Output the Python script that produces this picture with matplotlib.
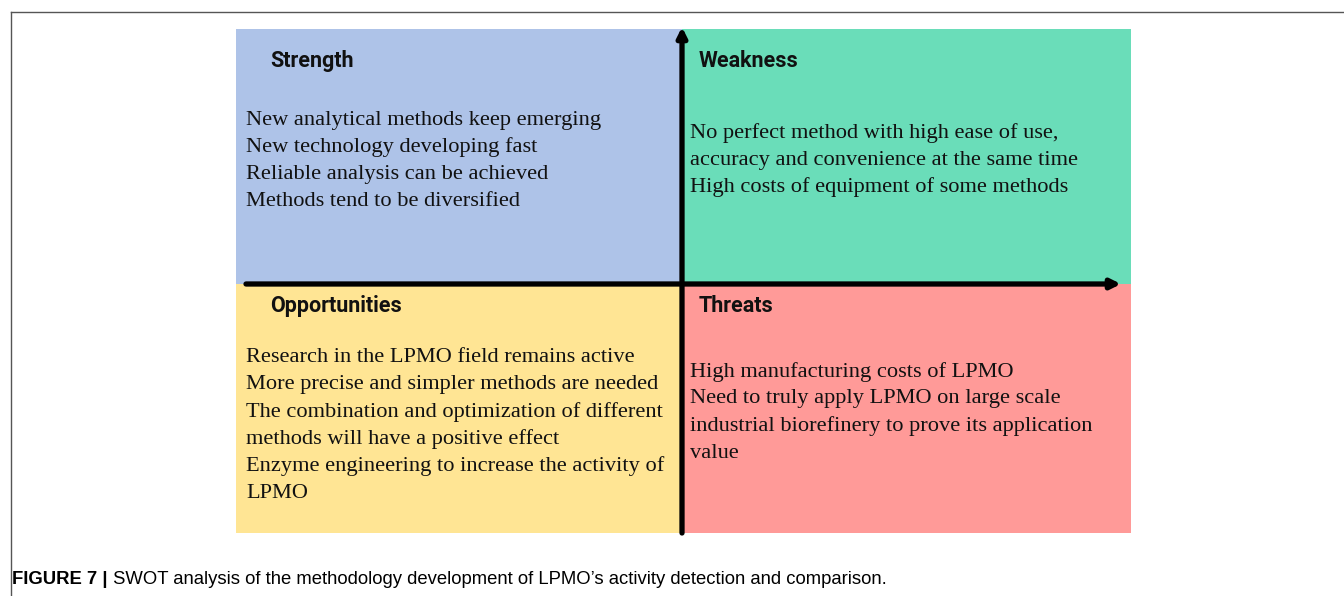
import matplotlib
matplotlib.use("Agg")
import matplotlib.pyplot as plt
from matplotlib.patches import Rectangle

# ---- content ----
titles = ["Strength", "Weakness", "Opportunities", "Threats"]
colors = ["#AEC3E8", "#6ADDB9", "#FFE594", "#FF9A98"]
strength_lines = ["New analytical methods keep emerging",
                  "New technology developing fast",
                  "Reliable analysis can be achieved",
                  "Methods tend to be diversified"]
weakness_lines = ["No perfect method with high ease of use,",
                  "accuracy and convenience at the same time",
                  "High costs of equipment of some methods"]
opportunity_lines = ["Research in the LPMO field remains active",
                     "More precise and simpler methods are needed",
                     "The combination and optimization of different",
                     "methods will have a positive effect",
                     "Enzyme engineering to increase the activity of",
                     "LPMO"]
threat_lines = ["High manufacturing costs of LPMO",
                "Need to truly apply LPMO on large scale",
                "industrial biorefinery to prove its application",
                "value"]
caption_bold = "FIGURE 7 |"
caption_text = " SWOT analysis of the methodology development of LPMO\u2019s activity detection and comparison."

# ---- layout (pixels) ----
W, H = 1344, 596
fig = plt.figure(figsize=(W / 100, H / 100), dpi=100)
ax = fig.add_axes([0, 0, 1, 1])
ax.set_xlim(0, W)
ax.set_ylim(H, 0)
ax.axis("off")

x0, xm, x1 = 236, 682, 1131
y0, ym, y1 = 29, 284, 533

# outer frame lines
ax.plot([11, W], [12, 12], color="#555555", lw=1.0)
ax.plot([11, 11], [12, H], color="#555555", lw=1.0)

boxes = [(x0, y0, xm - x0, ym - y0), (xm, y0, x1 - xm, ym - y0),
         (x0, ym, xm - x0, y1 - ym), (xm, ym, x1 - xm, y1 - ym)]
for (bx, by, bw, bh), c in zip(boxes, colors):
    ax.add_patch(Rectangle((bx, by), bw, bh, facecolor=c, edgecolor="none"))

# axes arrows
ax.annotate("", xy=(1121, ym), xytext=(246, ym),
            arrowprops=dict(arrowstyle="-|>", lw=3.8, color="black",
                            mutation_scale=14, shrinkA=0, shrinkB=0))
ax.annotate("", xy=(xm, y0 - 2), xytext=(xm, y1),
            arrowprops=dict(arrowstyle="-|>", lw=3.8, color="black",
                            mutation_scale=14, shrinkA=0, shrinkB=0))

# titles
title_pos = [(270, 61), (699, 61), (270, 306), (699, 306)]
for t, (tx, ty) in zip(titles, title_pos):
    ax.text(tx, ty, t, fontsize=15.5, fontweight="bold", family="Roboto",
            ha="left", va="center", color="#111111")

# body text
bodies = [(strength_lines, 246, 120), (weakness_lines, 690, 133),
          (opportunity_lines, 246, 358), (threat_lines, 690, 372)]
lh = 27
for lines, bx, by in bodies:
    for i, ln in enumerate(lines):
        ax.text(bx, by + i * lh, ln, fontsize=16.1, family="Liberation Serif",
                ha="left", va="center", color="#111111")

# caption
cfs = 13.3
t1 = ax.text(12, 579, caption_bold, fontsize=cfs, fontweight="bold",
             family="Liberation Sans", ha="left", va="center")
fig.canvas.draw()
bb = t1.get_window_extent()
ax.text(12 + bb.width, 579, caption_text, fontsize=cfs,
        family="Liberation Sans", ha="left", va="center")

fig.savefig("out.png", dpi=100)
